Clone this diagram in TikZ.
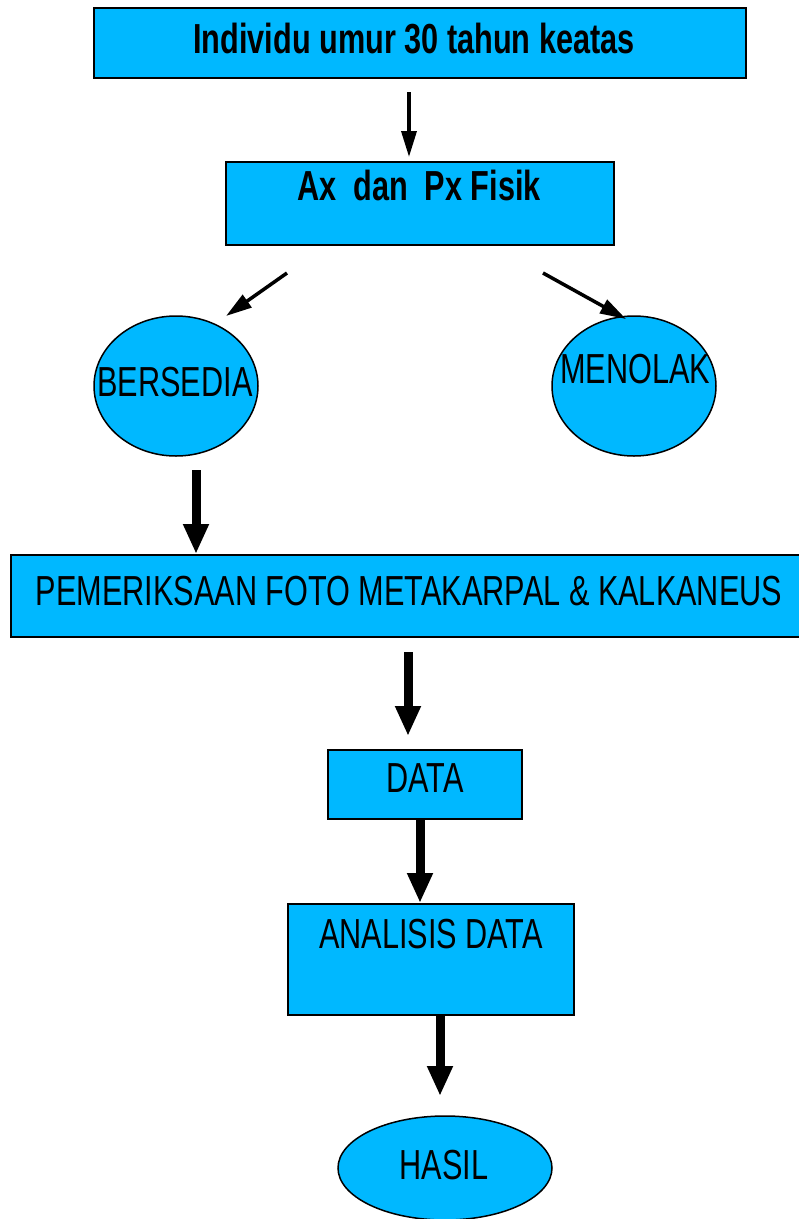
\documentclass[tikz,border=0pt]{standalone}
\usepackage{fontspec}
\usetikzlibrary{arrows.meta,shapes.geometric}
\newfontfamily\narrowfont{Liberation Sans}[FakeStretch=0.73]
\definecolor{boxcyan}{RGB}{0,184,255}
\tikzset{
  box/.style={draw, line width=2pt, fill=boxcyan, inner sep=0pt},
  oval/.style={ellipse, draw, line width=1.5pt, fill=boxcyan, inner sep=0pt},
  txt/.style={inner sep=0pt, font=\narrowfont\fontsize{42}{44}\selectfont},
  btxt/.style={inner sep=0pt, font=\narrowfont\bfseries\fontsize{42}{44}\selectfont},
  thin arrow/.style={line width=3.5pt, -{Triangle[length=26pt,width=15pt]}},
  fat arrow/.style={line width=9pt, -{Triangle[length=30pt,width=24pt]}}
}
\begin{document}
\begin{tikzpicture}[x=1pt,y=-1pt]
      \useasboundingbox (0,0) rectangle (799,1219);
      \draw
        (420,43) node[box, minimum width=652, minimum height=70] (top){}
        (420,203.5) node[box, minimum width=388, minimum height=83] (fisik){}
        (176,386) node[oval, minimum width=164, minimum height=140] (bersedia){}
        (634,386) node[oval, minimum width=164, minimum height=140] (menolak){}
        (408,596) node[box, minimum width=794, minimum height=82] (foto){}
        (425,784.5) node[box, minimum width=194, minimum height=69] (data){}
        (431,959.5) node[box, minimum width=286, minimum height=111] (analisis){}
        (445,1168) node[oval, minimum width=214, minimum height=104] (hasil){};
      % texts
      \draw
        (414,39) node[btxt] (toplbl){Individu umur 30 tahun keatas}
        (419,185) node[btxt] (fisiklbl){Ax\ \ dan\ \ Px Fisik}
        (175,382) node[txt] (bersedialbl){BERSEDIA}
        (635,369) node[txt] (menolaklbl){MENOLAK}
        (409,591) node[txt] (fotolbl){PEMERIKSAAN FOTO METAKARPAL \& KALKANEUS}
        (425,778) node[txt] (datalbl){DATA}
        (431,934) node[txt] (analisislbl){ANALISIS DATA}
        (444,1165) node[txt] (hasillbl){HASIL};
      % loose arrow ends
      \coordinate (a1) at (409,92);
      \coordinate (a2) at (409,157);
      \coordinate (l1) at (287,273);
      \coordinate (l2) at (226,316);
      \coordinate (r1) at (543,273);
      \coordinate (r2) at (626,319);
      \coordinate (b1) at (196,470);
      \coordinate (f1) at (408,652);
      \coordinate (f2) at (408,736);
      \coordinate (h2) at (440,1096);
      \begin{scope}
        \draw[thin arrow] (a1) to (a2);
        \draw[thin arrow] (l1) to (l2);
        \draw[thin arrow] (r1) to (r2);
        \draw[fat arrow] (b1) to (b1 |- foto.north);
        \draw[fat arrow] (f1) to (f2);
        \draw[fat arrow] (data.south -| 420,0) to (analisis.north -| 420,0);
        \draw[fat arrow] (analisis.south -| h2) to (h2);
      \end{scope}
    \end{tikzpicture}
\end{document}
